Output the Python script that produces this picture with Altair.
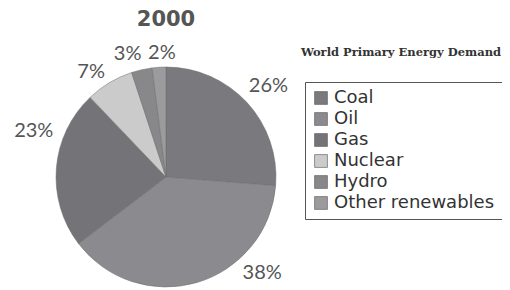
import altair as alt
import pandas as pd

categories = ["Coal", "Oil", "Gas", "Nuclear", "Hydro", "Other renewables"]
values = [26, 38, 23, 7, 3, 2]
colors = ["#7a7a7e", "#8b8b8f", "#747478", "#cbcbcb", "#88888a", "#9b9b9d"]
chart_title = "2000"
legend_title = "World Primary Energy Demand"

df = pd.DataFrame({
    "source": categories,
    "share": values,
    "idx": list(range(len(categories))),
    "label": [f"{v}%" for v in values],
})

cx, cy = 158, 169

base = alt.Chart(df).encode(
    theta=alt.Theta("share:Q", stack=True),
    order=alt.Order("idx:Q"),
)

pie = base.mark_arc(outerRadius=110, stroke="#6a6a6a", strokeWidth=0.5).encode(
    x=alt.value(cx),
    y=alt.value(cy),
    color=alt.Color(
        "source:N",
        sort=categories,
        scale=alt.Scale(domain=categories, range=colors),
        legend=alt.Legend(
            title=None,
            orient="none",
            legendX=297,
            legendY=74,
            symbolType="square",
            symbolSize=165,
            symbolStrokeWidth=0.6,
            symbolStrokeColor="#555",
            labelFont="DejaVu Sans",
            labelFontSize=18,
            labelColor="#333",
            rowPadding=3,
            padding=7,
            strokeColor="#555",
            fillColor="white",
            labelLimit=300,
        ),
    ),
)

def label_layer(selected, radius, theta_offset):
    return base.mark_text(
        radius=radius, thetaOffset=theta_offset, font="Lato", fontSize=20, color="#555"
    ).encode(
        x=alt.value(cx),
        y=alt.value(cy),
        text=alt.condition(
            alt.FieldOneOfPredicate(field="source", oneOf=selected),
            alt.Text("label:N"),
            alt.value(""),
        ),
    )

label_layers = [
    label_layer(["Coal"], 137, 0.02),
    label_layer(["Oil"], 136, -0.50),
    label_layer(["Gas"], 140, 0.255),
    label_layer(["Nuclear", "Hydro"], 129, -0.08),
    label_layer(["Other renewables"], 124, 0.03),
]

title_txt = alt.Chart(pd.DataFrame({"t": [chart_title]})).mark_text(
    font="DejaVu Sans", fontSize=21, fontWeight="bold", color="#555", baseline="middle"
).encode(x=alt.value(158), y=alt.value(12), text="t:N")

legend_txt = alt.Chart(pd.DataFrame({"t": [legend_title]})).mark_text(
    font="DejaVu Serif", fontSize=11.5, fontWeight="bold", color="#333", baseline="middle"
).encode(x=alt.value(393), y=alt.value(45), text="t:N")

chart = alt.layer(pie, *label_layers, title_txt, legend_txt).properties(
    width=494, height=281, padding=0, autosize=alt.AutoSizeParams(type="none")
).configure_view(stroke=None)

chart.save("out.html", embed_options={"renderer": "svg", "actions": False})
